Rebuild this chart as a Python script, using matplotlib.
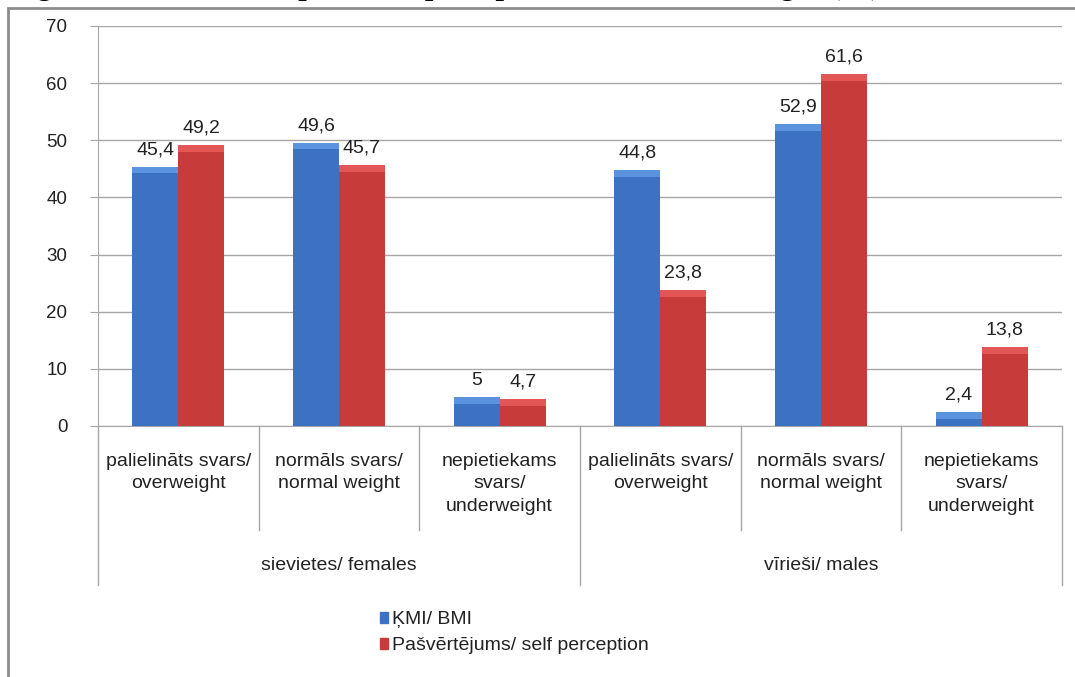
import matplotlib.pyplot as plt
from matplotlib.patches import Patch, Rectangle
from matplotlib.transforms import blended_transform_factory

# Dati
kategorijas = ["palielināts svars/\noverweight", "normāls svars/\nnormal weight",
               "nepietiekams\nsvars/\nunderweight",
               "palielināts svars/\noverweight", "normāls svars/\nnormal weight",
               "nepietiekams\nsvars/\nunderweight"]
grupas = ["sievietes/ females", "vīrieši/ males"]
kmi = [45.4, 49.6, 5, 44.8, 52.9, 2.4]
pasvertejums = [49.2, 45.7, 4.7, 23.8, 61.6, 13.8]
serijas = ["ĶMI/ BMI", "Pašvērtējums/ self perception"]

plt.rcParams['font.family'] = ['Liberation Sans', 'DejaVu Sans']

BLUE, BLUE_TOP = "#3d72c2", "#5b93de"
RED, RED_TOP = "#c83b3b", "#e25656"
GRID = "#a6a6a6"
TXT = "#222222"

fig = plt.figure(figsize=(10.75, 6.77), dpi=100)
ax = fig.add_axes([98 / 1075, 1 - 426 / 677, (1062 - 98) / 1075, 400 / 677])

x = list(range(len(kategorijas)))
w = 0.286


def bars(pos, vals, col, top):
    ax.bar(pos, vals, w, color=col, zorder=3)
    caps = [min(1.2, v / 2) for v in vals]
    ax.bar(pos, caps, w, bottom=[v - c for v, c in zip(vals, caps)], color=top, zorder=4)
    for p, v in zip(pos, vals):
        ax.annotate(f"{v:g}".replace(".", ","), (p, v), xytext=(0, 6),
                    textcoords="offset points", ha="center", va="bottom",
                    fontsize=14, color=TXT)


bars([i - w / 2 for i in x], kmi, BLUE, BLUE_TOP)
bars([i + w / 2 for i in x], pasvertejums, RED, RED_TOP)

ax.set_xlim(-0.5, len(kategorijas) - 0.5)
ax.set_ylim(0, 70)
ax.set_yticks(range(0, 71, 10))
ax.yaxis.grid(True, color=GRID, linewidth=1)
ax.set_axisbelow(True)
ax.tick_params(axis="y", length=6, color=GRID, labelsize=13.5, labelcolor=TXT, pad=16)
ax.set_xticks([])
for s in ["top", "right"]:
    ax.spines[s].set_visible(False)
ax.spines["left"].set_color(GRID)
ax.spines["bottom"].set_color(GRID)

# Kategoriju un grupu uzraksti
tr = blended_transform_factory(ax.transData, ax.transAxes)
for i, lab in enumerate(kategorijas):
    ax.text(i, -0.068, lab, transform=tr, ha="center", va="top", fontsize=14,
            color=TXT, linespacing=1.4)
for i in range(1, len(kategorijas)):
    if i == 3:
        continue
    ax.plot([i - 0.5, i - 0.5], [0, -0.26], transform=tr, color=GRID, lw=1, clip_on=False)
for xv in [-0.5, 2.5, 5.5]:
    ax.plot([xv, xv], [0, -0.3975], transform=tr, color=GRID, lw=1, clip_on=False)
for g, lab in enumerate(grupas):
    ax.text(g * 3 + 1, -0.3475, lab, transform=tr, ha="center", va="center",
            fontsize=14, color=TXT)

# Leģenda
handles = [Patch(facecolor=BLUE, edgecolor=BLUE), Patch(facecolor=RED, edgecolor=RED)]
fig.legend(handles, serijas, loc="upper left", bbox_to_anchor=(362 / 1075, 1 - 594 / 677),
           frameon=False, fontsize=14, handlelength=0.45, handleheight=0.45,
           handletextpad=0.2, labelspacing=0.45, labelcolor=TXT)

# Ārējais rāmis un nogrieztais virsraksts (attēlā redzama tikai apakšējā daļa)
fig.patches.append(Rectangle((8 / 1075, -0.01), 1.0, 1 - 8 / 677 + 0.01, transform=fig.transFigure,
                             fill=False, edgecolor="#8c8c8c", linewidth=2))
fig.text(10 / 1075, 1 + 6 / 677, "Figure 3. BMI and respondents perception of their own weight (%)",
         family="Liberation Serif", fontweight="bold", fontsize=22, va="baseline", ha="left")

fig.savefig("out.png", dpi=100)
